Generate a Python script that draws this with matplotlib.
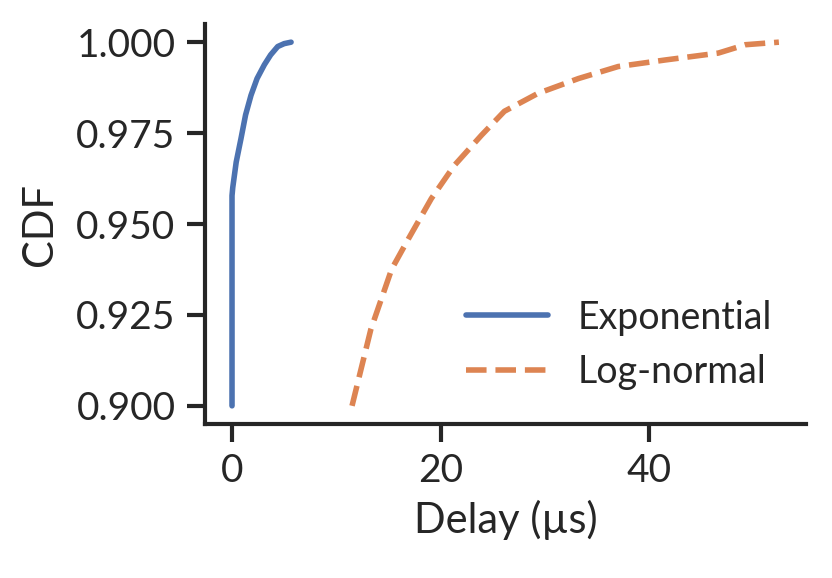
import matplotlib
matplotlib.use('Agg')
import matplotlib.pyplot as plt
import seaborn as sns

sns.set_theme(style='ticks')
plt.rcParams['font.family'] = ['Lato', 'DejaVu Sans']

BLUE = '#4c72b0'
ORANGE = '#dd8452'

# Exponential delay CDF (upper tail)
exp_delay = [0.0, 0.0, 0.07, 0.4, 0.86, 1.3, 1.82, 2.4, 3.1, 3.7, 4.38, 5.0, 5.66]
exp_cdf = [0.900, 0.9578, 0.9600, 0.9670, 0.9735, 0.9800, 0.9854, 0.9900, 0.9938, 0.9965, 0.9988, 0.9996, 1.000]

# Log-normal delay CDF (upper tail)
logn_delay = [11.5, 13.3, 15.3, 16.9, 19.1, 21.3, 23.9, 26.1, 29.3, 33.2, 37.0, 41.5, 46.6, 49.2, 52.4]
logn_cdf = [0.900, 0.921, 0.9376, 0.9459, 0.957, 0.9661, 0.9744, 0.981, 0.9859, 0.990, 0.9933,
            0.9951, 0.997, 0.9993, 1.000]

fig = plt.figure(figsize=(4.16, 2.89), dpi=200)
ax = fig.add_axes([0.246, 0.2664, 0.723, 0.6921])

ax.plot(exp_delay, exp_cdf, color=BLUE, lw=2, label='Exponential')
ax.plot(logn_delay, logn_cdf, color=ORANGE, lw=2, ls='--', label='Log-normal')

ax.set_yticks([0.900, 0.925, 0.950, 0.975, 1.000])
ax.set_xticks([0, 20, 40])
ax.tick_params(labelsize=14, width=1.5, length=6.5, pad=4, colors='#262626')
for s in ax.spines.values():
    s.set_linewidth(1.5)
    s.set_color('#262626')
sns.despine(ax=ax)

ax.set_xlabel('Delay (µs)', fontsize=15, color='#262626')
ax.set_ylabel('CDF', fontsize=15, color='#262626', labelpad=6)
ax.legend(loc='lower right', frameon=False, fontsize=13.5, handlelength=2.2)

fig.savefig('out.png', dpi=200)
